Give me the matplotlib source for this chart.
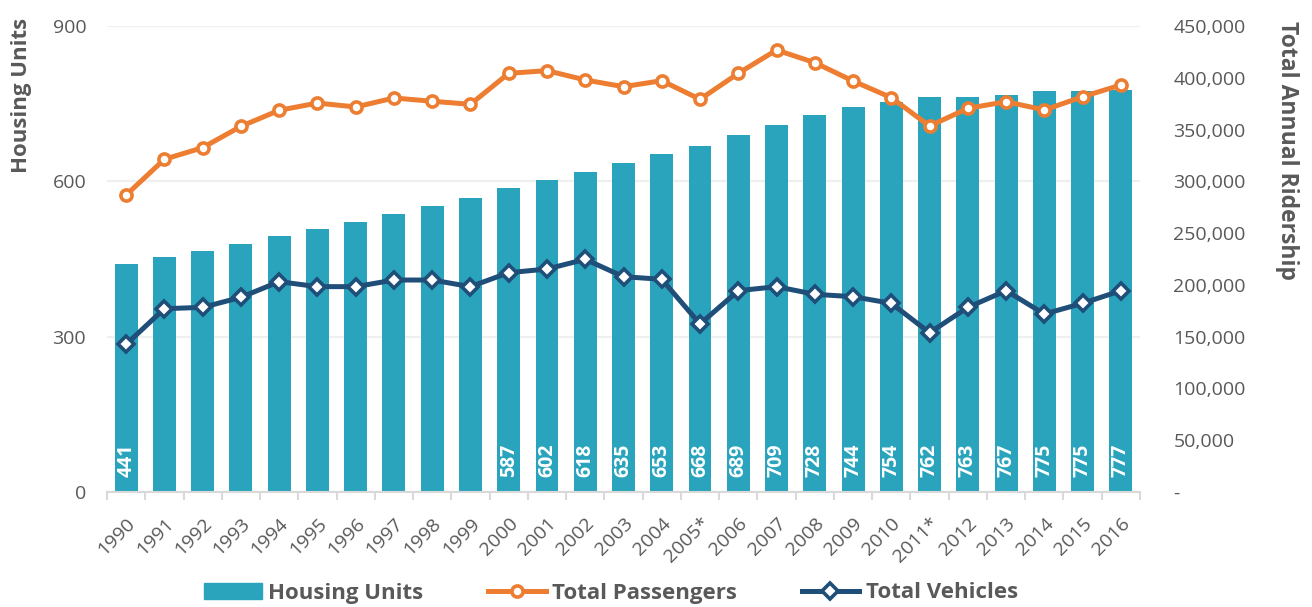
import numpy as np
import matplotlib.pyplot as plt
from matplotlib.lines import Line2D
from matplotlib.patches import Patch
from matplotlib.ticker import FuncFormatter

years = ["1990", "1991", "1992", "1993", "1994", "1995", "1996", "1997", "1998",
         "1999", "2000", "2001", "2002", "2003", "2004", "2005*", "2006", "2007",
         "2008", "2009", "2010", "2011*", "2012", "2013", "2014", "2015", "2016"]
housing = [441, 453, 465, 479, 494, 507, 521, 536, 553, 568, 587, 602, 618, 635,
           653, 668, 689, 709, 728, 744, 754, 762, 763, 767, 775, 775, 777]
passengers = [286800, 321300, 332500, 353100, 368600, 375600, 371800, 380500,
              377300, 374400, 404300, 406900, 397900, 391400, 397200, 379200,
              404300, 426800, 414600, 396900, 380800, 353400, 370500, 376900,
              368900, 381700, 393000]
vehicles = [142600, 177000, 178300, 188000, 203100, 198300, 198300, 204700,
            204700, 198300, 211800, 215300, 224700, 207900, 205400, 162200,
            194400, 198300, 190900, 188600, 182200, 153800, 178300, 194400,
            171900, 182200, 194400]
# only these bars carry a value label in the original
labelled = [0] + list(range(10, 27))

teal = "#29A4BC"
orange = "#ED7D31"
navy = "#1F4E79"
grey = "#595959"

plt.rcParams['font.family'] = ['Open Sans', 'DejaVu Sans']

fig = plt.figure(figsize=(13.12, 6.07), dpi=100)
ax = fig.add_axes([107 / 1312, 1 - 492 / 607, (1140 - 107) / 1312, 466 / 607])
ax2 = ax.twinx()

x = np.arange(len(years))
ax.bar(x, housing, width=0.6, color=teal, zorder=2)
for i in labelled:
    ax.annotate(str(housing[i]), (x[i], 0), xytext=(0, 10.5), textcoords="offset points",
                rotation=90, ha="center", va="bottom", color="white",
                fontsize=14, fontweight="bold")

ax2.plot(x, passengers, color=orange, lw=3.6, marker="o", ms=8,
         mfc="white", mec=orange, mew=2.6, zorder=3)
ax2.plot(x, vehicles, color=navy, lw=3.6, marker="D", ms=8,
         mfc="white", mec=navy, mew=2.6, zorder=3)

ax.set_xlim(-0.5, len(years) - 0.5)
ax.set_ylim(0, 900)
ax.set_yticks([0, 300, 600, 900])
ax2.set_ylim(0, 450000)
ax2.set_yticks(np.arange(0, 450001, 50000))
ax2.yaxis.set_major_formatter(FuncFormatter(lambda v, p: "-" if v == 0 else f"{int(v):,}"))

ax.grid(axis="y", color="#EFEFEF", lw=1.6, zorder=0)
ax.set_axisbelow(True)

for a in (ax, ax2):
    for s in ("top", "left", "right"):
        a.spines[s].set_visible(False)
ax2.spines["bottom"].set_visible(False)
ax.spines["bottom"].set_color("#D9D9D9")
ax.spines["bottom"].set_linewidth(1.5)

ax.set_xticks(x)
ax.set_xticklabels(years, rotation=45, ha="right", rotation_mode="anchor")
ax.set_xticks(np.arange(-0.5, len(years), 1), minor=True)
ax.tick_params(axis="x", which="major", length=0, pad=16, labelsize=14, labelcolor=grey)
ax.tick_params(axis="x", which="minor", length=6, width=1.5, color="#D9D9D9")
ax.tick_params(axis="y", length=0, pad=15, labelsize=14, labelcolor=grey)
ax2.tick_params(axis="y", length=0, pad=24, labelsize=14, labelcolor=grey)

fig.text(22 / 1312, 1 - 95 / 607, "Housing Units", rotation=90, ha="center", va="center",
         fontsize=16, fontweight="bold", color=grey)
fig.text(1287 / 1312, 1 - 150 / 607, "Total Annual Ridership", rotation=270,
         ha="center", va="center", fontsize=16.5, fontweight="bold", color=grey)

handles = [Patch(color=teal),
           Line2D([], [], color=orange, lw=3.6, marker="o", ms=8, mfc="white", mec=orange, mew=2.6),
           Line2D([], [], color=navy, lw=3.6, marker="D", ms=8, mfc="white", mec=navy, mew=2.6)]
fig.legend(handles, ["Housing Units", "Total Passengers", "Total Vehicles"],
           loc="center", bbox_to_anchor=(611 / 1312, 1 - 593 / 607), ncol=3,
           frameon=False, handlelength=2.6, handleheight=0.75, handletextpad=0.3,
           columnspacing=2.9, prop={"size": 16, "weight": "bold"}, labelcolor=grey)

fig.savefig("out.png", dpi=100)
